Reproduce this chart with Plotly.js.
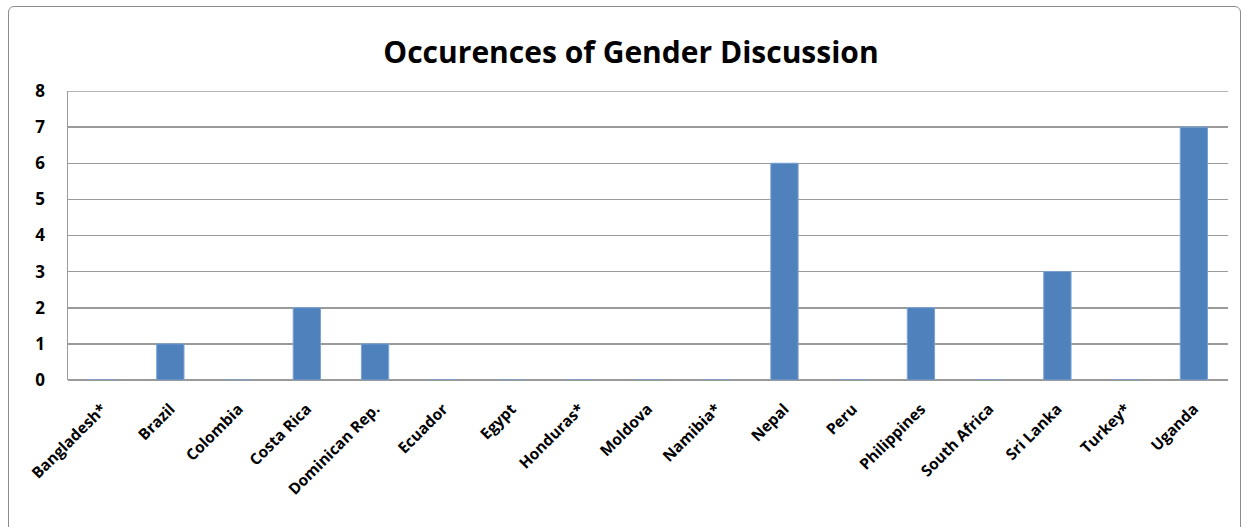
<!DOCTYPE html>
<html>
<head>
<meta charset="utf-8">
<script src="https://cdn.plot.ly/plotly-3.0.1.min.js"></script>
<style>
  html, body { margin: 0; padding: 0; background: #fff; }
  #wrap { position: relative; width: 1247px; height: 527px; }
  #frame { position: absolute; left: 8px; top: 6px; width: 1231px; height: 525px; border: 1px solid #8c8c8c; border-radius: 6px; pointer-events: none; z-index: 5; }
  #chart { position: absolute; left: 0; top: 0; width: 1247px; height: 527px; }
</style>
</head>
<body>
<div id="wrap">
  <div id="chart"></div>
  <div id="frame"></div>
</div>
<script>
const countries = ["Bangladesh*", "Brazil", "Colombia", "Costa Rica", "Dominican Rep.", "Ecuador", "Egypt", "Honduras*", "Moldova", "Namibia*", "Nepal", "Peru", "Philippines", "South Africa", "Sri Lanka", "Turkey*", "Uganda"];
const occurrences = [0, 1, 0, 2, 1, 0, 0, 0, 0, 0, 6, 0, 2, 0, 3, 0, 7];
const yTicks = [0, 1, 2, 3, 4, 5, 6, 7, 8];
const chartTitle = "Occurences of Gender Discussion";

const fontFam = "'Open Sans', 'Liberation Sans', sans-serif";

Plotly.newPlot("chart", [{
  type: "bar",
  x: countries,
  y: occurrences,
  marker: { color: "#4F81BD", line: { color: "#7aa2d4", width: 1 } },
  hoverinfo: "x+y"
}], {
  width: 1247,
  height: 527,
  margin: { l: 68, r: 19, t: 91, b: 147 },
  paper_bgcolor: "#ffffff",
  plot_bgcolor: "#ffffff",
  bargap: 0.6,
  title: {
    text: "<b>" + chartTitle + "</b>",
    font: { family: fontFam, size: 30, color: "#000" },
    x: 0.506, xanchor: "center",
    y: 0.9, yanchor: "middle"
  },
  xaxis: {
    type: "category",
    tickangle: -45,
    tickfont: { family: fontFam, size: 15.5, color: "#000", weight: "bold" },
    showgrid: false,
    showline: false,
    ticks: "",
    ticklabelstandoff: 16
  },
  yaxis: {
    range: [0, 8],
    tickvals: yTicks,
    ticktext: yTicks.map(String),
    tickfont: { family: fontFam, size: 17, color: "#000", weight: "bold" },
    showgrid: true,
    gridcolor: "#9a9a9a",
    gridwidth: 1.5,
    zeroline: true,
    zerolinecolor: "#9a9a9a",
    zerolinewidth: 1.5,
    showline: true,
    linecolor: "#9a9a9a",
    linewidth: 1.5,
    ticks: "",
    ticklabelstandoff: 18
  },
  shapes: [{
    type: "line", xref: "paper", yref: "y",
    x0: 0, x1: 1, y0: yTicks[yTicks.length - 1], y1: yTicks[yTicks.length - 1],
    line: { color: "#9a9a9a", width: 1.5 }, layer: "below"
  }],
  showlegend: false
}, { displayModeBar: false, staticPlot: true });
</script>
</body>
</html>
